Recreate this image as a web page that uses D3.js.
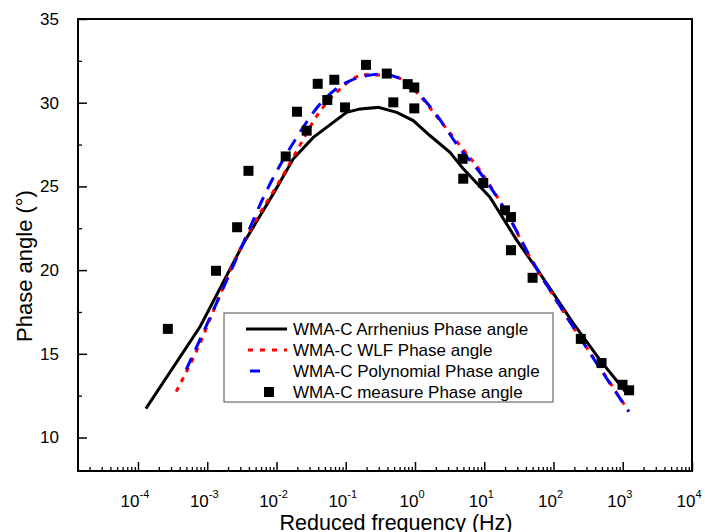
<!DOCTYPE html>
<html>
<head>
<meta charset="utf-8">
<script src="https://cdn.jsdelivr.net/npm/d3@7"></script>
<style>
  body { margin: 0; background: #fff; }
  svg { font-family: Arial, "Liberation Sans", sans-serif; }
</style>
</head>
<body>
<div id="chart"></div>
<script>
// measured points
const measFreq = [2.7e-4, 1.34e-3, 2.7e-3, 3.94e-3, 0.0136, 0.0198, 0.0273, 0.0394, 0.0542, 0.0684,
  0.0977, 0.196, 0.391, 0.486, 0.785, 0.977, 0.977, 4.88, 4.98, 9.68,
  19.9, 24.3, 24.3, 49.9, 248, 494, 993, 1236];
const measPhase = [16.49, 19.96, 22.56, 25.93, 26.79, 29.46, 28.33, 31.13, 30.16, 31.37,
  29.72, 32.26, 31.74, 30.02, 31.11, 30.91, 29.66, 26.65, 25.46, 25.20,
  23.57, 23.17, 21.19, 19.54, 15.89, 14.45, 13.15, 12.82];

// Arrhenius model
const arrFreq = [1.30e-4, 7.91e-4, 3.33e-3, 9.02e-3, 0.0175, 0.0340, 0.103, 0.161, 0.295, 0.545,
  0.944, 1.64, 3.20, 4.98, 12.1, 29.4, 63.7, 192, 468, 1135];
const arrPhase = [11.73, 16.63, 21.59, 24.57, 26.65, 27.93, 29.42, 29.63, 29.72, 29.42,
  28.93, 28.04, 27.04, 26.05, 24.36, 21.79, 19.80, 16.83, 14.64, 12.66];

// WLF model
const wlfFreq = [3.56e-4, 7.14e-4, 1.39e-3, 2.70e-3, 5.25e-3, 0.0102, 0.0198, 0.0385, 0.0774, 0.190,
  0.466, 1.10, 2.30, 4.46, 8.67, 21.3, 50.5, 105, 218, 516, 1225];
const wlfPhase = [12.74, 15.24, 18.10, 20.89, 23.10, 25.06, 27.14, 29.23, 30.71, 31.67,
  31.61, 30.54, 28.93, 27.44, 25.95, 23.39, 20.42, 18.33, 16.25, 13.93, 11.55];

// polynomial model
const polyFreq = [4.97e-4, 1.23e-3, 2.99e-3, 7.24e-3, 0.0196, 0.0426, 0.115, 0.330, 0.759, 1.84,
  4.46, 8.67, 21.3, 50.5, 105, 218, 516, 1225];
const polyPhase = [14.05, 17.62, 21.19, 24.76, 27.93, 29.92, 31.31, 31.71, 31.21, 29.52,
  27.26, 25.83, 23.39, 20.48, 18.33, 16.25, 13.87, 11.55];

const xTickExp = [-4, -3, -2, -1, 0, 1, 2, 3, 4];
const yTicks = [10, 15, 20, 25, 30, 35];

const legendLabels = [
  "WMA-C Arrhenius Phase angle",
  "WMA-C WLF Phase angle",
  "WMA-C Polynomial Phase angle",
  "WMA-C measure Phase angle"
];

const W = 705, H = 532;
const pLeft = 78, pRight = 692, pTop = 19, pBottom = 471;

const svg = d3.select("#chart").append("svg")
  .attr("width", W)
  .attr("height", H);

const x = d3.scaleLog()
  .domain([Math.pow(10, -4.866), 1e4])
  .range([pLeft, pRight]);

const y = d3.scaleLinear()
  .domain([8, 35])
  .range([pBottom, pTop]);

// minor ticks for x
const minorX = [];
for (let e = -5; e < 4; e++) {
  for (let m = 2; m <= 9; m++) {
    const v = m * Math.pow(10, e);
    if (v > x.domain()[0] && v < 1e4) minorX.push(v);
  }
}

// x axis (ticks inside)
svg.append("g")
  .attr("transform", "translate(0," + pBottom + ")")
  .call(d3.axisBottom(x).tickValues(minorX).tickSize(-4).tickFormat(""))
  .call(g => g.select(".domain").remove())
  .call(g => g.selectAll("line").attr("stroke", "#000").attr("stroke-width", 1.3));

svg.append("g")
  .attr("transform", "translate(0," + pBottom + ")")
  .call(d3.axisBottom(x).tickValues(xTickExp.map(e => Math.pow(10, e))).tickSize(-9).tickFormat(""))
  .call(g => g.select(".domain").remove())
  .call(g => g.selectAll("line").attr("stroke", "#000").attr("stroke-width", 1.5));

// x tick labels 10^n
const xl = svg.append("g");
xTickExp.forEach(e => {
  const t = xl.append("text")
    .attr("x", x(Math.pow(10, e)) - 3)
    .attr("y", 507)
    .attr("text-anchor", "middle")
    .style("font-size", "17px")
    .attr("fill", "#000");
  t.append("tspan").text("10");
  t.append("tspan")
    .attr("dy", -9)
    .style("font-size", "11px")
    .text(e);
});

// y axis
svg.append("g")
  .attr("transform", "translate(" + pLeft + ",0)")
  .call(d3.axisLeft(y).tickValues([12.5, 17.5, 22.5, 27.5, 32.5]).tickSize(-4).tickFormat(""))
  .call(g => g.select(".domain").remove())
  .call(g => g.selectAll("line").attr("stroke", "#000").attr("stroke-width", 1.3));

svg.append("g")
  .attr("transform", "translate(" + pLeft + ",0)")
  .call(d3.axisLeft(y).tickValues(yTicks).tickSize(-9).tickPadding(19).tickFormat(d3.format("d")))
  .call(g => g.select(".domain").remove())
  .call(g => g.selectAll("line").attr("stroke", "#000").attr("stroke-width", 1.5))
  .call(g => g.selectAll("text").style("font-size", "17px").attr("fill", "#000"));

// frame
svg.append("rect")
  .attr("x", pLeft)
  .attr("y", pTop)
  .attr("width", pRight - pLeft)
  .attr("height", pBottom - pTop)
  .attr("fill", "none")
  .attr("stroke", "#000")
  .attr("stroke-width", 2);

// axis titles
svg.append("text")
  .attr("x", 396)
  .attr("y", 530)
  .attr("text-anchor", "middle")
  .style("font-size", "21.5px")
  .text("Reduced frequency (Hz)");

svg.append("text")
  .attr("transform", "translate(32,266) rotate(-90)")
  .attr("text-anchor", "middle")
  .style("font-size", "22px")
  .text("Phase angle (°)");

// lines
const line = d3.line()
  .x(d => x(d[0]))
  .y(d => y(d[1]));

const smooth = d3.line()
  .x(d => x(d[0]))
  .y(d => y(d[1]))
  .curve(d3.curveMonotoneX);

const plot = svg.append("g");

plot.append("path")
  .datum(d3.zip(arrFreq, arrPhase))
  .attr("d", line)
  .attr("fill", "none")
  .attr("stroke", "#000")
  .attr("stroke-width", 3);

plot.append("path")
  .datum(d3.zip(wlfFreq, wlfPhase))
  .attr("d", smooth)
  .attr("fill", "none")
  .attr("stroke", "#ff0000")
  .attr("stroke-width", 3)
  .attr("stroke-dasharray", "5,6");

plot.append("path")
  .datum(d3.zip(polyFreq, polyPhase))
  .attr("d", smooth)
  .attr("fill", "none")
  .attr("stroke", "#0000ff")
  .attr("stroke-width", 3)
  .attr("stroke-dasharray", "13,9");

// measured squares
const sq = 10;
plot.selectAll("rect.meas")
  .data(d3.zip(measFreq, measPhase))
  .enter()
  .append("rect")
  .attr("class", "meas")
  .attr("x", d => x(d[0]) - sq / 2)
  .attr("y", d => y(d[1]) - sq / 2)
  .attr("width", sq)
  .attr("height", sq)
  .attr("fill", "#000");

// legend
const lg = svg.append("g");
lg.append("rect")
  .attr("x", 224)
  .attr("y", 313)
  .attr("width", 329)
  .attr("height", 89)
  .attr("fill", "#fff")
  .attr("stroke", "#777")
  .attr("stroke-width", 1.3);

const rowY = [329, 350, 371, 392];
lg.append("line")
  .attr("x1", 246).attr("x2", 287)
  .attr("y1", rowY[0]).attr("y2", rowY[0])
  .attr("stroke", "#000").attr("stroke-width", 3);
lg.append("line")
  .attr("x1", 248).attr("x2", 287)
  .attr("y1", rowY[1]).attr("y2", rowY[1])
  .attr("stroke", "#ff0000").attr("stroke-width", 3)
  .attr("stroke-dasharray", "5,7");
lg.append("line")
  .attr("x1", 250).attr("x2", 287)
  .attr("y1", rowY[2]).attr("y2", rowY[2])
  .attr("stroke", "#0000ff").attr("stroke-width", 3)
  .attr("stroke-dasharray", "10,40");
lg.append("rect")
  .attr("x", 269 - sq / 2)
  .attr("y", rowY[3] - sq / 2)
  .attr("width", sq)
  .attr("height", sq)
  .attr("fill", "#000");

lg.selectAll("text")
  .data(legendLabels)
  .enter()
  .append("text")
  .attr("x", 293)
  .attr("y", (d, i) => rowY[i] + 6)
  .style("font-size", "17px")
  .text(d => d);
</script>
</body>
</html>
